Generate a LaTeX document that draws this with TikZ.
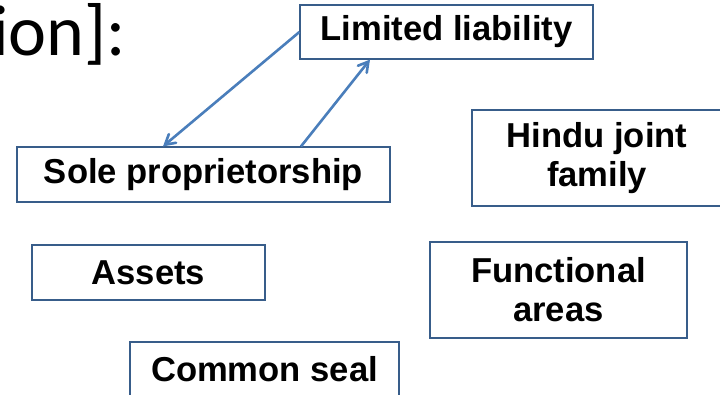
\documentclass[tikz,border=0pt]{standalone}
\usepackage{fontspec}
\setsansfont{Liberation Sans}
\newfontfamily\titlefont{Carlito}
\usepackage{tikz}
\usetikzlibrary{arrows, calc}
\definecolor{boxline}{RGB}{56,93,138}
\definecolor{arrowline}{RGB}{74,126,187}
\tikzstyle{term} = [draw=boxline, line width=0.6pt, rectangle, inner sep=0pt, align=center, font=\sffamily\bfseries\fontsize{17.3}{19.5}\selectfont]
\tikzstyle{arrow} = [draw=arrowline, line width=1.3pt, ->, >=angle 60]

\begin{document}
\begin{tikzpicture}[x=0.5pt, y=-0.5pt]
        \useasboundingbox (0,0) rectangle (720,395);
        \clip (0,0) rectangle (720,395);

        \node[anchor=base west, inner sep=0pt, font=\titlefont\fontsize{36}{40}\selectfont] (title) at (-8,56) {ion]:};

        \node[term, minimum width=146.5pt, minimum height=27pt] (liability) at (446.5,32) {Limited liability};
        \node[term, minimum width=186.5pt, minimum height=27.5pt] (sole) at (203.5,174.5) {Sole proprietorship};
        \node[term, minimum width=125pt, minimum height=48pt] (hindu) at (597,158) {Hindu joint\\family};
        \node[term, minimum width=116.5pt, minimum height=27.5pt] (assets) at (148.5,272.5) {Assets};
        \node[term, minimum width=128.5pt, minimum height=48pt] (functional) at (558.5,290) {Functional\\areas};
        \node[term, minimum width=134.5pt, minimum height=27.5pt] (seal) at (264.5,369.5) {Common seal};

        \draw[arrow] (liability.west) -- ($(sole.north)+(-40.5,0)$);
        \draw[arrow] ($(sole.north)+(97.5,0)$) -- ($(liability.south)+(-76.5,0)$);

\end{tikzpicture}
\end{document}
